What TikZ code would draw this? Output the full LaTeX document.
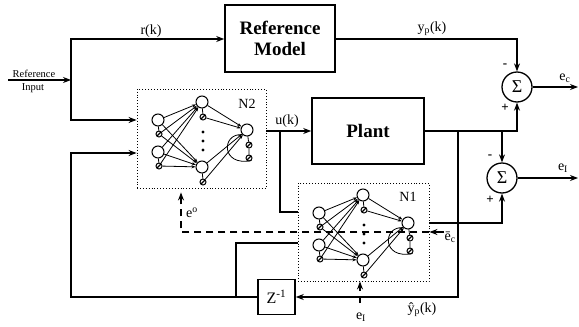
\documentclass[tikz,border=0pt]{standalone}
\usepackage{fontspec}
\setmainfont{Liberation Serif}
\usetikzlibrary{arrows.meta,calc}
\newcommand\drawnet[3]{%
\begin{scope}[shift={(#2,#3)}]
 \node[big] (#1I1) at (319,213) {};
 \node[sml] (#1i1) at (320,227) {};
 \node[big] (#1I2) at (319,245) {};
 \node[sml] (#1i2) at (320,259) {};
 \node[big] (#1H1) at (363,195) {};
 \node[sml] (#1h1) at (364,210) {};
 \node[big] (#1H2) at (363,260) {};
 \node[sml] (#1h2) at (364,275) {};
 \node[big] (#1O) at (408,223) {};
 \node[sml] (#1o1) at (410,238) {};
 \node[sml] (#1o2) at (410,251) {};
 \fill (364,225) circle (1.7) (364,234) circle (1.7) (364,243) circle (1.7);
 \foreach \a in {I1,i1,I2,i2} {\foreach \b in {H1,H2} {\draw[syna] (#1\a) -- (#1\b);}}
 \foreach \a in {H1,h1,H2,h2} {\draw[syna] (#1\a) -- (#1O);}
 \draw[syn] (#1I1) -- (#1i1) (#1I2) -- (#1i2) (#1H1) -- (#1h1) (#1H2) -- (#1h2) (#1O) -- (#1o1) -- (#1o2);
 \draw[syn] (#1O.south west) .. controls (382,226) and (382,260) .. (#1o2.south east);
\end{scope}}
\begin{document}
\begin{tikzpicture}[x=1pt,y=-1pt,
  line width=1.1pt,
  arr/.style={-{Stealth[length=8pt,width=6pt]}},
  blk/.style={draw,line width=1.6pt,inner sep=0pt,align=center},
  sumn/.style={draw,circle,line width=1.3pt,minimum size=30pt,inner sep=0pt,font=\fontsize{18}{18}\selectfont},
  lbl/.style={font=\fontsize{14}{14}\selectfont,inner sep=0pt},
  sgn/.style={font=\fontsize{13}{13}\selectfont\bfseries,inner sep=0pt},
  netbox/.style={draw,dotted,line width=0.9pt},
  big/.style={draw,circle,minimum size=12pt,inner sep=0pt,line width=1pt,fill=white},
  sml/.style={draw,circle,minimum size=6pt,inner sep=0pt,line width=1pt,fill=white,path picture={\draw[line width=1.3pt] (path picture bounding box.south west) -- (path picture bounding box.north east);}},
  syn/.style={line width=0.8pt},
  syna/.style={line width=0.8pt,-{Stealth[length=4pt,width=3pt]}},
  dsh/.style={dash pattern=on 7pt off 5pt, line width=1.1pt}
]
\useasboundingbox (0,0) rectangle (579,327);

% blocks
\node[blk,minimum width=110pt,minimum height=67pt,font=\fontsize{19}{21}\selectfont\bfseries] (refm) at (280,38.5) {Reference\\Model};
\node[blk,minimum width=112pt,minimum height=66pt,font=\fontsize{19}{21}\selectfont\bfseries] (plant) at (368,131) {Plant};
\node[sumn] (sum1) at (517,87) {Σ};
\node[sumn] (sum2) at (502,178) {Σ};
\node[blk,minimum width=37pt,minimum height=35pt,font=\fontsize{16}{16}\selectfont] (zinv) at (276.5,297) {Z\textsuperscript{-1}};
\node[netbox,minimum width=129pt,minimum height=99pt] (n2) at (201.5,138.5) {};
\node[netbox,minimum width=131pt,minimum height=98pt] (n1) at (363.5,232) {};

% coordinates
\coordinate (rin) at (8,80);
\coordinate (rj) at (71,80);
\coordinate (rt) at (71,39);
\coordinate (rb) at (71,120);
\coordinate (ub) at (280,131);
\coordinate (ub2) at (280,212);
\coordinate (yb) at (458,131);
\coordinate (fbl) at (71,297);
\coordinate (in2) at (71,153);
\coordinate (fb2) at (236,297);
\coordinate (n1in2) at (236,243);
\coordinate (eo) at (181,232);
\coordinate (ecin) at (444,232);
\coordinate (eiin) at (360,303);
\coordinate (ecout) at (578,87);
\coordinate (eiout) at (578,178);

% dashed error paths (behind networks)
\draw[dsh,arr,shorten >=4pt] (n1.east) -- (eo) -- (eo |- n2.south);
\draw[arr] (ecin) -- (n1.east);
\draw[dsh,arr] (eiin) -- (eiin |- n1.south);

% networks
\drawnet{a}{-161}{-93}
\drawnet{b}{0}{0}

% connectors
\draw[arr] (rin) -- (rj);
\draw[arr] (rj) -- (rt) -- (rt -| refm.west);
\draw[arr] (rj) -- (rb) -- (rb -| n2.west);
\draw[arr] (refm.east |- rt) -- (rt -| sum1) -- (sum1.north);
\draw[arr] (sum1.east) -- (ecout);
\draw[arr] (n2.east |- plant.west) -- (plant.west);
\draw (ub) -- (ub2) -- (ub2 -| n1.west);
\draw[arr] (plant.east) -- (plant.east -| sum1) -- (sum1.south);
\draw[arr] (plant.east -| sum2) -- (sum2.north);
\draw[arr] (yb) -- (yb |- zinv.east) -- (zinv.east);
\draw[arr] (zinv.west) -- (fbl) -- (in2) -- (in2 -| n2.west);
\draw (fb2) -- (n1in2) -- (n1in2 -| n1.west);
\draw[arr] (n1.east |- bO) -- (bO -| sum2) -- (sum2.south);
\draw[arr] (sum2.east) -- (eiout);

% labels
\node[font=\fontsize{10.5}{11}\selectfont,inner sep=0pt] (lref) at (34,74) {Reference};
\node[font=\fontsize{10.5}{11}\selectfont,inner sep=0pt] (linp) at (33,88) {Input};
\node[lbl] (lr) at (151,31) {r(k)};
\node[lbl] (lyp) at (432,29) {y\textsubscript{p}(k)};
\node[lbl] (lu) at (287,121) {u(k)};
\node[lbl] (lec) at (565,78) {e\textsubscript{c}};
\node[lbl] (lei) at (563,168) {e\textsubscript{I}};
\node[lbl] (lyh) at (422,310) {ŷ\textsubscript{p}(k)};
\node[lbl] (lei2) at (361,317) {e\textsubscript{I}};
\node[lbl,anchor=west] (lecb) at (444,237) {ē\textsubscript{c}};
\node[lbl] (leo) at (192,213) {e\textsuperscript{o}};
\node[lbl] (ln2) at (247,104) {N2};
\node[lbl] (ln1) at (408,197) {N1};
\node[sgn] (s1m) at (505,66) {-};
\node[sgn] (s1p) at (505,108) {+};
\node[sgn] (s2m) at (490,157) {-};
\node[sgn] (s2p) at (490,200) {+};
\end{tikzpicture}
\end{document}
